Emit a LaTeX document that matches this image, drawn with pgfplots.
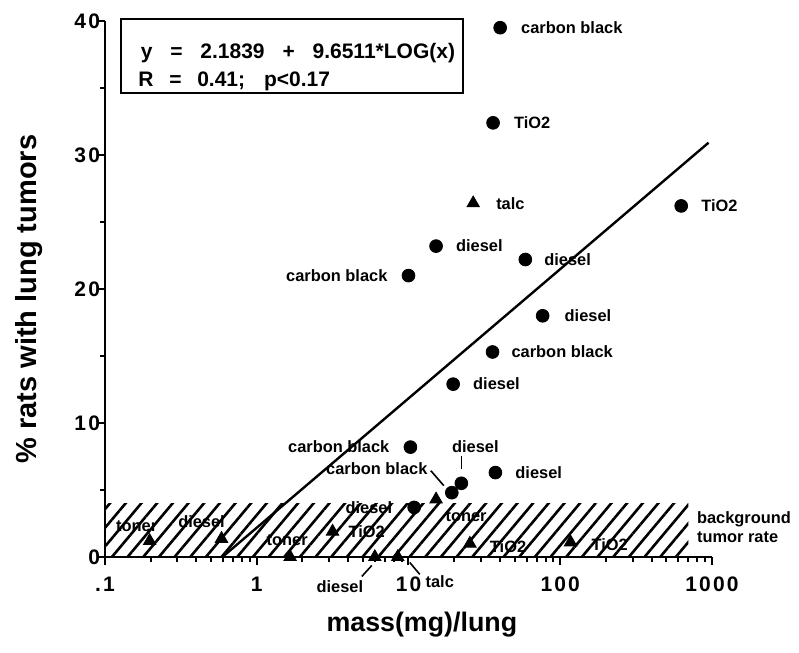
\documentclass[border=0pt]{standalone}
\usepackage{fontspec}
\setmainfont{Liberation Sans}
\usepackage{pgfplots}
\pgfplotsset{compat=1.18}
\usetikzlibrary{patterns.meta}

% font for the point labels
\newcommand{\lab}{\bfseries\fontsize{8.2}{9.6}\selectfont}

\begin{document}
\begin{tikzpicture}
% fixed page size around the axis
\path[use as bounding box] (-52.5pt,-48pt) rectangle (347pt,278.5pt);
\begin{axis}[
  scale only axis, width=303.5pt, height=268pt,
  xmode=log, xmin=0.1, xmax=1000, ymin=0, ymax=40,
  axis lines*=left,
  axis line style={line width=1.2pt},
  clip=false,
  xtick={0.1,1,10,100,1000},
  xticklabels={.1,1,10,100,1000},
  minor xtick={0.2,0.3,0.4,0.5,0.6,0.7,0.8,0.9,2,3,4,5,6,7,8,9,20,30,40,50,60,70,80,90,200,300,400,500,600,700,800,900},
  ytick={0,10,20,30,40},
  minor ytick={5,15,25,35},
  tick align=outside,
  major tick length=4pt, minor tick length=2.5pt,
  tick style={line width=1pt, black},
  ticklabel style={font=\bfseries\fontsize{10.5}{12}\selectfont\addfontfeature{LetterSpace=10}},
  /pgf/number format/assume math mode=true,
  xticklabel style={yshift=-2.5pt},
  yticklabel style={xshift=5pt},
  xlabel={mass(mg)/lung},
  ylabel={\% rats with lung tumors},
  xlabel style={font=\bfseries\fontsize{13.4}{16}\selectfont,
    at={(axis description cs:0.522,0)}, anchor=center, yshift=-33.7pt},
  ylabel style={font=\bfseries\fontsize{14.5}{17}\selectfont,
    at={(axis description cs:-0.125,0.481)}, anchor=center},
]

% background tumor rate band
\addplot[draw=none, pattern={Lines[angle=50,distance=6pt,line width=1.3pt]}, forget plot]
  coordinates {(0.1,4) (700,4)} \closedcycle;

% regression line y = 2.1839 + 9.6511*log(x)
\addplot[black, line width=1.2pt] coordinates {(0.594,0) (950,30.92)};

% circles
\addplot[only marks, mark=*, mark size=3.2pt, black] coordinates {
  (40.2,39.5) (36.1,32.4) (627,26.2) (15.2,23.2) (58.9,22.2) (10.0,21.0)
  (76.6,18.0) (35.8,15.3) (19.7,12.9) (10.3,8.2) (22.3,5.5) (19.3,4.8)
  (37.4,6.3) (10.9,3.7)
};

% triangles
\addplot[only marks, mark=triangle*, mark size=3.6pt, black] coordinates {
  (26.7,26.4) (15.2,4.3) (25.4,1.0) (117,1.1) (3.16,1.9) (0.197,1.2)
  (0.586,1.36) (1.66,0) (6.0,0) (8.5,0)
};

% labels for circles
\node[anchor=west,font=\lab] at ([xshift=7pt]axis cs:40.2,39.5) {carbon black};
\node[anchor=west,font=\lab] at ([xshift=7pt]axis cs:36.1,32.4) {TiO2};
\node[anchor=west,font=\lab] at ([xshift=6.5pt]axis cs:627,26.2) {TiO2};
\node[anchor=west,font=\lab] at ([xshift=6.5pt]axis cs:15.2,23.2) {diesel};
\node[anchor=west,font=\lab] at ([xshift=6pt]axis cs:58.9,22.2) {diesel};
\node[anchor=east,font=\lab] at ([xshift=-7pt]axis cs:10.0,21.0) {carbon black};
\node[anchor=west,font=\lab] at ([xshift=7.5pt]axis cs:76.6,18.0) {diesel};
\node[anchor=west,font=\lab] at ([xshift=6pt]axis cs:35.8,15.3) {carbon black};
\node[anchor=west,font=\lab] at ([xshift=6.5pt]axis cs:19.7,12.9) {diesel};
\node[anchor=east,font=\lab] at ([xshift=-7pt]axis cs:10.3,8.2) {carbon black};
\node[font=\lab] at ([shift={(7pt,18.5pt)}]axis cs:22.3,5.5) {diesel};
\draw[line width=0.8pt] ([yshift=7pt]axis cs:22.3,5.5) -- ([yshift=13.5pt]axis cs:22.3,5.5);
\node[font=\lab] at ([shift={(-37.5pt,12pt)}]axis cs:19.3,4.8) {carbon black};
\draw[line width=0.8pt] ([shift={(-4pt,3.5pt)}]axis cs:19.3,4.8) -- ([shift={(-10.5pt,11pt)}]axis cs:19.3,4.8);
\node[anchor=west,font=\lab] at ([xshift=6.5pt]axis cs:37.4,6.3) {diesel};
\node[anchor=east,font=\lab] at ([xshift=-7.5pt]axis cs:10.9,3.7) {diesel};

% labels for triangles
\node[anchor=west,font=\lab] at ([xshift=8pt]axis cs:26.7,26.4) {talc};
\node[font=\lab] at ([shift={(15pt,-8.5pt)}]axis cs:15.2,4.3) {toner};
\node[anchor=west,font=\lab] at ([shift={(6.5pt,-1.5pt)}]axis cs:25.4,1.0) {TiO2};
\node[anchor=west,font=\lab] at ([shift={(7pt,-1pt)}]axis cs:117,1.1) {TiO2};
\node[anchor=west,font=\lab] at ([xshift=4.5pt]axis cs:3.16,1.9) {TiO2};
\node[font=\lab] at ([shift={(-6.5pt,7.5pt)}]axis cs:0.197,1.2) {toner};
\node[font=\lab] at ([shift={(-10pt,8.5pt)}]axis cs:0.586,1.36) {diesel};
\node[font=\lab] at ([shift={(-1.5pt,8.4pt)}]axis cs:1.66,0) {toner};
\node[font=\lab] at ([shift={(-17.5pt,-15pt)}]axis cs:6.0,0) {diesel};
\draw[line width=0.8pt] ([shift={(-6.5pt,-9.75pt)}]axis cs:6.0,0) -- ([shift={(-1.5pt,-4.2pt)}]axis cs:6.0,0);
\node[font=\lab] at ([shift={(21pt,-12.4pt)}]axis cs:8.5,0) {talc};
\draw[line width=0.8pt] ([shift={(6pt,-2.75pt)}]axis cs:8.5,0) -- ([shift={(11pt,-8.7pt)}]axis cs:8.5,0);

\node[anchor=west,font=\lab,align=left,inner sep=0pt] at (axis cs:793,2.2) {background\\tumor rate};
\end{axis}

% regression equation box
\draw[line width=1pt] (7.9pt,232pt) rectangle (178.9pt,269pt);
\node[anchor=west,inner sep=0pt,font=\bfseries\fontsize{10.5}{12}\selectfont] at (17.7pt,251.8pt)
  {y\hspace{0.85em}=\hspace{0.85em}2.1839\hspace{0.85em}+\hspace{0.85em}9.6511*LOG(x)};
\node[anchor=west,inner sep=0pt,font=\bfseries\fontsize{10.5}{12}\selectfont] at (16.5pt,237.8pt)
  {R\hspace{0.75em}=\hspace{0.75em}0.41;\hspace{0.9em}p<0.17};
\end{tikzpicture}
\end{document}
